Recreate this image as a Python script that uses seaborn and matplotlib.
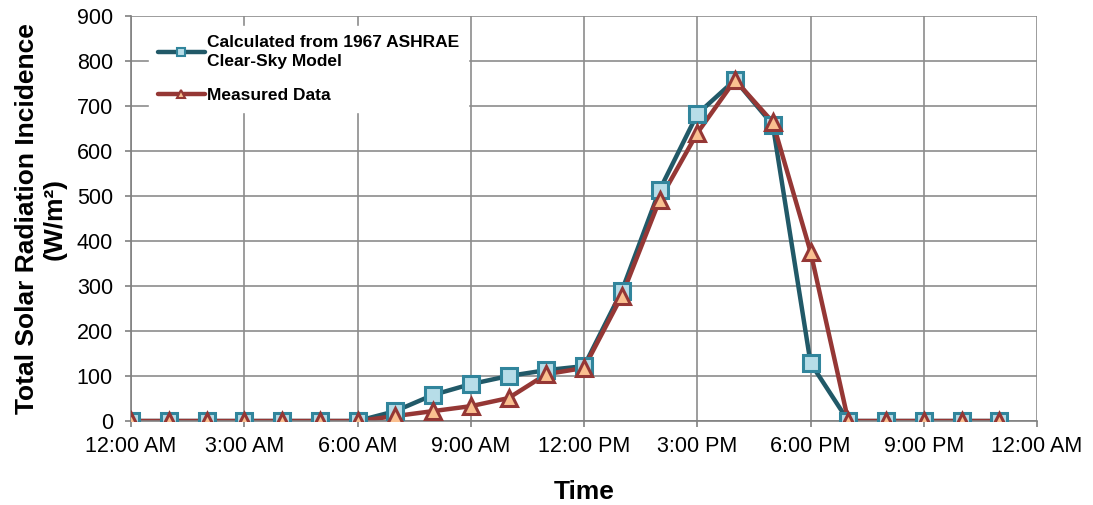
import matplotlib
matplotlib.use("Agg")
import matplotlib.pyplot as plt
import seaborn as sns
import pandas as pd
import numpy as np
from matplotlib.lines import Line2D

hours = list(range(24))
calculated = [0, 0, 0, 0, 0, 0, 0, 22, 58, 82, 100, 113, 122, 289, 513, 682, 758, 658, 129, 0, 0, 0, 0, 0]
measured = [0, 0, 0, 0, 0, 0, 0, 11, 22, 33, 51, 104, 118, 278, 491, 640, 758, 664, 376, 0, 0, 0, 0, 0]
series_names = ["Calculated from 1967 ASHRAE\nClear-Sky Model", "Measured Data"]
tick_hours = [0, 3, 6, 9, 12, 15, 18, 21, 24]
tick_labels = ["12:00 AM", "3:00 AM", "6:00 AM", "9:00 AM", "12:00 PM", "3:00 PM", "6:00 PM", "9:00 PM", "12:00 AM"]

df = pd.DataFrame({
    "hour": hours * 2,
    "value": calculated + measured,
    "series": [series_names[0]] * 24 + [series_names[1]] * 24,
})

sns.set_theme(style="white")
plt.rcParams['font.family'] = ['Liberation Sans', 'DejaVu Sans']
plt.rcParams['text.color'] = 'black'
plt.rcParams['axes.labelcolor'] = 'black'
plt.rcParams['xtick.color'] = 'black'
plt.rcParams['ytick.color'] = 'black'

fig = plt.figure(figsize=(10.93, 5.05), dpi=100)
ax = fig.add_axes([0.1199, 0.1663, 0.8289, 0.802])

line_colors = {series_names[0]: "#215968", series_names[1]: "#953735"}
sns.lineplot(data=df, x="hour", y="value", hue="series", palette=line_colors,
             ax=ax, linewidth=3.2, legend=False, sort=False)

ax.plot(hours, calculated, linestyle="none", marker="s", markersize=11,
        markerfacecolor="#B7DDE8", markeredgecolor="#31859C", markeredgewidth=2.2, zorder=3)
ax.plot(hours, measured, linestyle="none", marker="^", markersize=12,
        markerfacecolor="#FAC090", markeredgecolor="#953735", markeredgewidth=2.2, zorder=4)

h1 = Line2D([], [], color="#215968", linewidth=3.2, marker="s", markersize=6,
            markerfacecolor="#B7DDE8", markeredgecolor="#31859C", markeredgewidth=1.5)
h2 = Line2D([], [], color="#953735", linewidth=3.2, marker="^", markersize=6,
            markerfacecolor="#FAC090", markeredgecolor="#953735", markeredgewidth=1.5)
leg = ax.legend([h1, h2], series_names, loc="upper left", bbox_to_anchor=(0.02, 0.975),
                borderaxespad=0, frameon=True, fancybox=False, framealpha=1, edgecolor="white",
                prop={"weight": "bold", "size": 12.5}, handlelength=2.7, handletextpad=0.15,
                labelspacing=1.1, borderpad=0.5)
for t in leg.get_texts():
    t.set_linespacing(1.35)
leg.set_zorder(10)

ax.set_xlim(0, 24)
ax.set_ylim(0, 900)
ax.set_xticks(tick_hours)
ax.set_xticklabels(tick_labels)
ax.set_yticks(range(0, 901, 100))
ax.tick_params(axis="both", labelsize=15.5, labelcolor="black", length=4, width=1.2,
               color="#808080", direction="out", bottom=True, left=True)
ax.tick_params(axis="x", pad=7)
ax.tick_params(axis="y", pad=9)
ax.grid(True, color="#8c8c8c", linewidth=1.2)
ax.set_axisbelow(True)
for s in ["top", "right"]:
    ax.spines[s].set_visible(False)
for s in ["left", "bottom"]:
    ax.spines[s].set_color("#808080")
    ax.spines[s].set_linewidth(1.2)

ax.set_xlabel("Time", fontsize=19, fontweight="bold", labelpad=16)
ax.set_ylabel("Total Solar Radiation Incidence\n(W/m²)", fontsize=19, fontweight="bold",
              labelpad=7, linespacing=1.2)

fig.savefig("out.png", dpi=100)
